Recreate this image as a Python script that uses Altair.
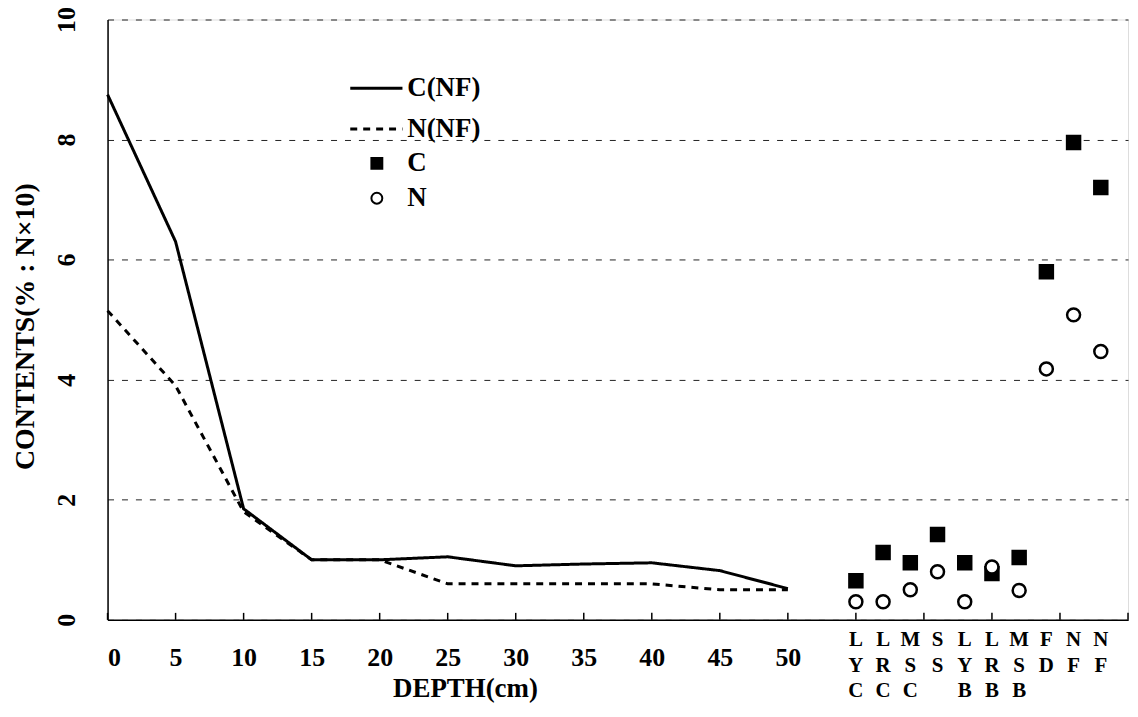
import altair as alt
import pandas as pd

# ---- data ----
depth = [0, 5, 10, 15, 20, 25, 30, 35, 40, 45, 50]
c_nf = [8.75, 6.3, 1.85, 1.0, 1.0, 1.05, 0.9, 0.93, 0.95, 0.82, 0.52]
n_nf = [5.15, 3.9, 1.8, 1.0, 1.0, 0.6, 0.6, 0.6, 0.6, 0.5, 0.5]

sites = ["LYC", "LRC", "MSC", "SS", "LYB", "LRB", "MSB", "FD", "NF", "NF"]
c_site = [0.65, 1.12, 0.95, 1.42, 0.95, 0.77, 1.04, 5.8, 7.95, 7.2]
n_site = [0.3, 0.3, 0.5, 0.8, 0.3, 0.88, 0.49, 4.18, 5.08, 4.47]

x_ticks = list(range(0, 80, 5))
x_labels = list(range(0, 55, 5))
y_ticks = [0, 2, 4, 6, 8, 10]

W, H = 1025, 603
FONT = "Liberation Serif"

# ---- tables ----
line_df = pd.DataFrame(
    [{"x": d, "v": v, "series": "C(NF)"} for d, v in zip(depth, c_nf)]
    + [{"x": d, "v": v, "series": "N(NF)"} for d, v in zip(depth, n_nf)]
)
site_pos = [55 + 2 * i for i in range(len(sites))]
pt_df = pd.DataFrame(
    [{"x": p, "v": v, "series": "C"} for p, v in zip(site_pos, c_site)]
    + [{"x": p, "v": v, "series": "N"} for p, v in zip(site_pos, n_site)]
)
lab_df = pd.DataFrame({"x": site_pos, "label": ["\n".join(s) for s in sites]})
tick_df = pd.DataFrame({"x": x_ticks})

xscale = alt.Scale(domain=[0, 75], nice=False, zero=False)
yscale = alt.Scale(domain=[0, 10], nice=False)

xaxis = alt.Axis(
    values=x_labels, tickSize=0, grid=False, labelPadding=38, labelBaseline="middle",
    labelFontSize=26, labelFont=FONT, labelFontWeight="bold", labelColor="black",
    title="DEPTH(cm)", titleFont=FONT, titleFontSize=27, titleFontWeight="bold",
    titleColor="black", titleX=359, titleY=69, titleBaseline="middle", titleAlign="center",
    domainColor="black", domainWidth=1.5,
)
yaxis = alt.Axis(
    values=y_ticks, format="d", tickSize=0, grid=True, gridDash=[6, 8], gridColor="#222",
    gridWidth=1, labelAngle=270, labelAlign="center", labelBaseline="bottom",
    labelPadding=28, labelFontSize=26, labelFont=FONT, labelFontWeight="bold",
    labelColor="black", title="CONTENTS(% : N×10)", titleFont=FONT,
    titleFontSize=28, titleFontWeight="bold", titleColor="black",
    titleX=-82, titleY=308, titleAngle=270, titleAlign="center", titleBaseline="middle",
    domainColor="black", domainWidth=1.5,
)

line_legend = alt.Legend(
    title=None, orient="none", legendX=242, legendY=41, padding=0,
    labelFont=FONT, labelFontSize=27, labelFontWeight="bold", labelColor="black",
    symbolType="stroke", symbolSize=2750, symbolStrokeWidth=3,
    symbolStrokeColor="black", labelOffset=3, rowPadding=-3,
)

lines = alt.Chart(line_df).mark_line(color="black", strokeWidth=3).encode(
    x=alt.X("x:Q", scale=xscale, axis=xaxis),
    y=alt.Y("v:Q", scale=yscale, axis=yaxis),
    strokeDash=alt.StrokeDash(
        "series:N",
        scale=alt.Scale(domain=["C(NF)", "N(NF)"], range=[[1, 0], [7, 6]]),
        legend=line_legend,
    ),
)

point_legend = alt.Legend(
    title=None, orient="none", legendX=257, legendY=131, padding=0,
    labelFont=FONT, labelFontSize=27, labelFontWeight="bold", labelColor="black",
    symbolSize=120, symbolStrokeWidth=2, symbolOpacity=1,
    labelOffset=17, rowPadding=7,
)

points = alt.Chart(pt_df).mark_point(filled=False, size=170, opacity=1, stroke="black", strokeWidth=2.5).encode(
    x=alt.X("x:Q", scale=xscale),
    y=alt.Y("v:Q", scale=yscale),
    shape=alt.Shape(
        "series:N",
        scale=alt.Scale(domain=["C", "N"], range=["square", "circle"]),
        legend=point_legend,
    ),
    fill=alt.Fill(
        "series:N",
        scale=alt.Scale(domain=["C", "N"], range=["black", "white"]),
        legend=point_legend,
    ),
)

ticks = alt.Chart(tick_df).mark_rule(color="black", strokeWidth=1.5).encode(
    x=alt.X("x:Q", scale=xscale),
    y=alt.value(H),
    y2=alt.value(H - 7),
)

site_labels = alt.Chart(lab_df).mark_text(
    font=FONT, fontSize=21, fontWeight="bold", color="black",
    baseline="top", align="center", lineBreak="\n", lineHeight=26,
).encode(
    x=alt.X("x:Q", scale=xscale),
    y=alt.value(H + 9),
    text="label:N",
)

chart = alt.layer(ticks, lines, points, site_labels).resolve_legend(
    strokeDash="independent", shape="independent", fill="independent"
).properties(
    width=W, height=H,
    autosize=alt.AutoSizeParams(type="none"),
    padding={"left": 100, "top": 10, "right": 2, "bottom": 90},
).configure_view(stroke=None).configure(background="white")

chart.save("out.html", embed_options={"renderer": "svg", "actions": False})
